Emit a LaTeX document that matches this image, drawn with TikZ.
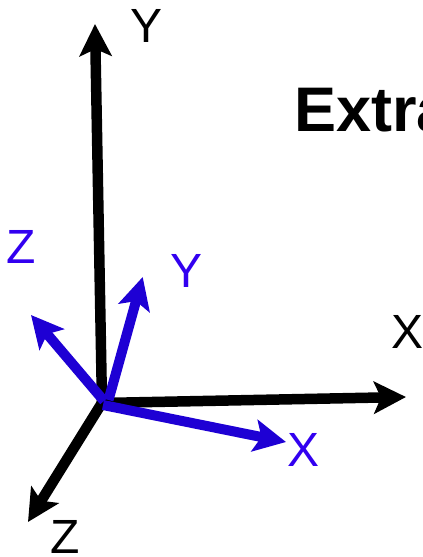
\documentclass[tikz,border=0pt]{standalone}
\usepackage{fontspec}
\setmainfont{Liberation Sans}
\usetikzlibrary{arrows.meta}
\definecolor{axisblue}{RGB}{30,0,212}
\definecolor{labelblue}{RGB}{50,0,240}
\tikzset{
  x=1pt,y=-1pt,
  axisline/.style={line width=10.5pt,-{Stealth[length=32pt,width=32pt,inset=7pt]}},
  blackaxis/.style={axisline,draw=black,fill=black},
  blueaxis/.style={axisline,draw=axisblue,fill=axisblue,line width=10pt},
  axislabel/.style={inner sep=0pt,font=\fontsize{48}{48}\selectfont,anchor=center},
  blacklabel/.style={axislabel,text=black},
  bluelabel/.style={axislabel,text=labelblue},
}
\begin{document}
\begin{tikzpicture}
\useasboundingbox (0,0) rectangle (423,557);
\coordinate (o) at (102,404);
\coordinate (oz) at (105,398);
\coordinate (ouy) at (108.5,400);
\coordinate (ouz) at (104,401);
\coordinate (oux) at (103,405);
\coordinate (obx) at (101,403);
\coordinate (by) at (95,24);
\coordinate (bx) at (406,397);
\coordinate (bz) at (28,522);
\coordinate (uy) at (142.7,277);
\coordinate (uz) at (31,315);
\coordinate (ux) at (286,442);
\draw[blackaxis] (o) -- (by);
\draw[blackaxis] (obx) -- (bx);
\draw[blackaxis] (oz) -- (bz);
\draw[blueaxis] (ouz) -- (uz);
\draw[blueaxis] (ouy) -- (uy);
\draw[blueaxis] (oux) -- (ux);
\node[blacklabel] (ly) at (147,25.5) {Y};
\node[blacklabel] (lx) at (408,332) {X};
\node[blacklabel] (lz) at (65,536.5) {Z};
\node[bluelabel] (mx) at (304,450) {X};
\node[bluelabel] (my) at (187,271) {Y};
\node[bluelabel] (mz) at (21,247) {Z};
\node[inner sep=0pt,anchor=base west,font=\fontsize{63}{63}\selectfont\bfseries] (title) at (294,131) {Extra};
\end{tikzpicture}
\end{document}
